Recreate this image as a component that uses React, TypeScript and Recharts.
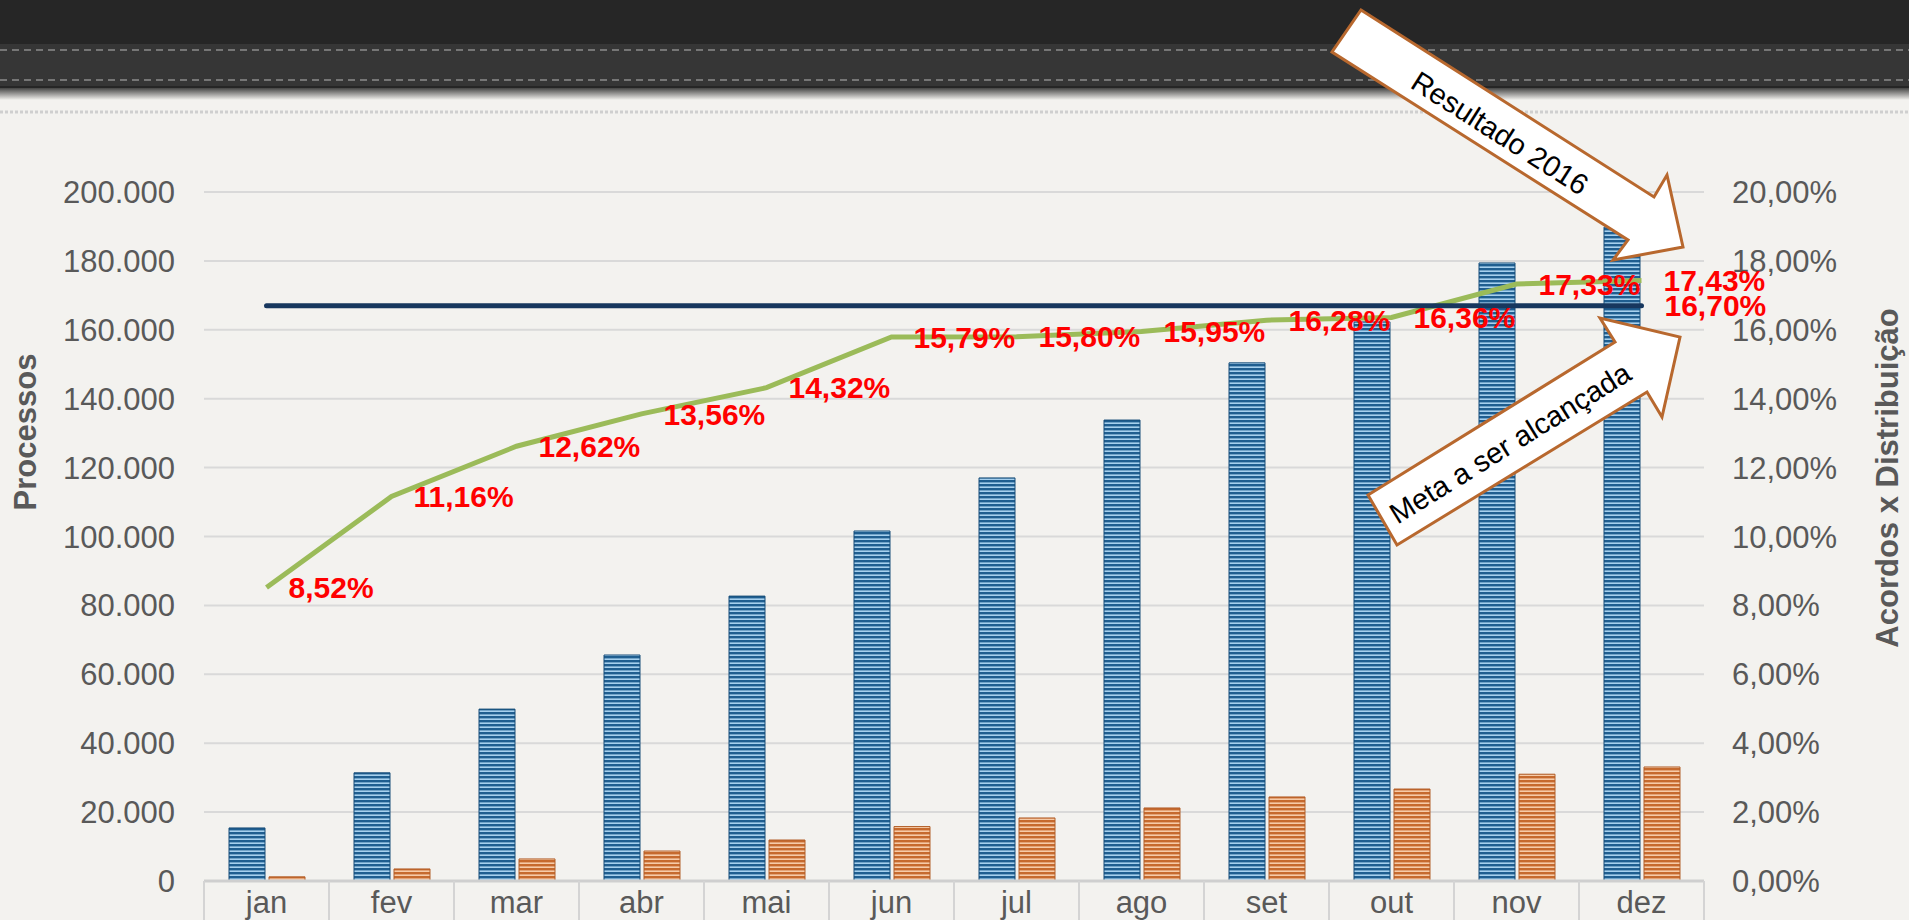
import { ComposedChart, Bar, Line, XAxis, YAxis, CartesianGrid, LabelList, Label } from "recharts";

const months = ["jan", "fev", "mar", "abr", "mai", "jun", "jul", "ago", "set", "out", "nov", "dez"];
// Processos distribuídos (acumulado)
const processos = [15400, 31400, 49900, 65600, 82700, 101600, 117000, 133800, 150400, 162300, 179400, 189800];
// Acordos (acumulado)
const acordos = [1200, 3500, 6400, 8700, 11900, 15800, 18300, 21200, 24400, 26700, 31000, 33100];
// Acordos x Distribuição (%)
const percentual = [8.52, 11.16, 12.62, 13.56, 14.32, 15.79, 15.8, 15.95, 16.28, 16.36, 17.33, 17.43];
// Meta a ser alcançada (%)
const meta = [16.7, 16.7, 16.7, 16.7, 16.7, 16.7, 16.7, 16.7, 16.7, 16.7, 16.7, 16.7];

const leftTicks = [0, 20000, 40000, 60000, 80000, 100000, 120000, 140000, 160000, 180000, 200000];
const rightTicks = [0, 2, 4, 6, 8, 10, 12, 14, 16, 18, 20];

const CHART_W = 1909;
const CHART_H = 920;
const LEFT_W = 204;
const RIGHT_W = 205;
const TOP = 192;
const XAXIS_H = 39;
const BAND = (CHART_W - LEFT_W - RIGHT_W) / months.length;

const FONT = "'Liberation Sans', Arial, sans-serif";
const GREY = "#595959";

const rows = months.map((m, i) => ({
  month: m,
  processos: processos[i],
  acordos: acordos[i],
  pct: percentual[i],
  meta: meta[i],
  metaLabel: i === months.length - 1 ? meta[i] : null,
}));

const fmtThousands = (v: number) => String(v).replace(/\B(?=(\d{3})+(?!\d))/g, ".");
const fmtPct = (v: number) => v.toFixed(2).replace(".", ",") + "%";

function MonthTick(props: any) {
  const { x, y, payload, index } = props;
  const half = BAND / 2;
  return (
    <g>
      <line x1={x - half} x2={x - half} y1={y} y2={y + XAXIS_H} stroke="#d4d4d4" strokeWidth={2} />
      {index === months.length - 1 && (
        <line x1={x + half} x2={x + half} y1={y} y2={y + XAXIS_H} stroke="#d4d4d4" strokeWidth={2} />
      )}
      <text x={x} y={y + 32} textAnchor="middle" fill={GREY} fontSize={31} fontFamily={FONT}>
        {payload.value}
      </text>
    </g>
  );
}

function Header() {
  return (
    <svg width={CHART_W} height={130} style={{ position: "absolute", left: 0, top: 0 }}>
      <defs>
        <linearGradient id="hdrShadow" x1="0" y1="0" x2="0" y2="1">
          <stop offset="0" stopColor="#1a1a1a" stopOpacity={0.8} />
          <stop offset="1" stopColor="#1a1a1a" stopOpacity={0} />
        </linearGradient>
      </defs>
      <rect x={0} y={0} width={CHART_W} height={88} fill="#262626" />
      <rect x={0} y={44} width={CHART_W} height={42} fill="#363636" />
      <line x1={0} x2={CHART_W} y1={50} y2={50} stroke="#8c8c8c" strokeWidth={1.5} strokeDasharray="7 5" />
      <line x1={0} x2={CHART_W} y1={80} y2={80} stroke="#8c8c8c" strokeWidth={1.5} strokeDasharray="7 5" />
      <rect x={0} y={88} width={CHART_W} height={12} fill="url(#hdrShadow)" />
      <line x1={0} x2={CHART_W} y1={112} y2={112} stroke="#cfcfcf" strokeWidth={3} strokeDasharray="3 2" />
    </svg>
  );
}

function Arrows() {
  const stroke = "#b8682e";
  return (
    <svg width={CHART_W} height={CHART_H} style={{ position: "absolute", left: 0, top: 0, pointerEvents: "none" }}>
      <polygon
        points="1361,10 1654,197 1667,175 1683,247 1613,260 1628,240 1332,52"
        fill="#ffffff"
        stroke={stroke}
        strokeWidth={3}
        strokeLinejoin="miter"
      />
      <text
        x={1500}
        y={133}
        dy="0.35em"
        textAnchor="middle"
        fontSize={29}
        fontFamily={FONT}
        fill="#000"
        transform="rotate(32.5 1500 133)"
      >
        Resultado 2016
      </text>
      <polygon
        points="1368,495 1615,342 1600,318 1680,337 1662,417 1647,392 1397,545"
        fill="#ffffff"
        stroke={stroke}
        strokeWidth={3}
        strokeLinejoin="miter"
      />
      <text
        x={1510}
        y={443}
        dy="0.35em"
        textAnchor="middle"
        fontSize={29}
        fontFamily={FONT}
        fill="#000"
        transform="rotate(-31.8 1510 443)"
      >
        Meta a ser alcançada
      </text>
    </svg>
  );
}

export default function App() {
  return (
    <div
      style={{
        position: "absolute",
        left: 0,
        top: 0,
        width: CHART_W,
        height: CHART_H,
        overflow: "hidden",
        background: "#f3f2ef",
        fontFamily: FONT,
      }}
    >
      <svg width={0} height={0} style={{ position: "absolute" }}>
        <defs>
          <pattern id="stripeBlue" patternUnits="userSpaceOnUse" width={8} height={4}>
            <rect width={8} height={4} fill="#1f5e90" />
            <rect y={2.4} width={8} height={1.6} fill="#a6d0ee" />
          </pattern>
          <pattern id="stripeOrange" patternUnits="userSpaceOnUse" width={8} height={4}>
            <rect width={8} height={4} fill="#c66a2e" />
            <rect y={2.4} width={8} height={1.6} fill="#f6cba8" />
          </pattern>
        </defs>
      </svg>
      <Header />
      <div style={{ position: "absolute", left: 0, top: 0 }}>
        <ComposedChart width={CHART_W} height={CHART_H} data={rows} margin={{ top: TOP, right: 0, bottom: 0, left: 0 }}>
          <CartesianGrid yAxisId="left" vertical={false} stroke="#d9d9d9" strokeWidth={2} />
          <XAxis
            dataKey="month"
            height={XAXIS_H}
            interval={0}
            tickLine={false}
            tickSize={0}
            tickMargin={0}
            axisLine={{ stroke: "#cfcfcf", strokeWidth: 3 }}
            tick={<MonthTick />}
          />
          <YAxis
            yAxisId="left"
            width={LEFT_W}
            domain={[0, 200000]}
            ticks={leftTicks}
            tickFormatter={fmtThousands}
            axisLine={false}
            tickLine={false}
            tickSize={0}
            tickMargin={29}
            tick={{ fill: GREY, fontSize: 31, fontFamily: FONT }}
          >
            <Label
              content={(p: any) => {
                const vb = p.viewBox;
                const cx = vb.x + 25;
                const cy = vb.y + 240;
                return (
                  <text
                    x={cx}
                    y={cy}
                    dy="0.35em"
                    textAnchor="middle"
                    fontSize={31}
                    fontWeight="bold"
                    fontFamily={FONT}
                    fill={GREY}
                    transform={`rotate(-90 ${cx} ${cy})`}
                  >
                    Processos
                  </text>
                );
              }}
            />
          </YAxis>
          <YAxis
            yAxisId="right"
            orientation="right"
            width={RIGHT_W}
            domain={[0, 20]}
            ticks={rightTicks}
            tickFormatter={fmtPct}
            axisLine={false}
            tickLine={false}
            tickSize={0}
            tickMargin={28}
            tick={{ fill: GREY, fontSize: 31, fontFamily: FONT, textAnchor: "start" }}
          >
            <Label
              content={(p: any) => {
                const vb = p.viewBox;
                const cx = vb.x + 183;
                const cy = vb.y + 286;
                return (
                  <text
                    x={cx}
                    y={cy}
                    dy="0.35em"
                    textAnchor="middle"
                    fontSize={31}
                    fontWeight="bold"
                    fontFamily={FONT}
                    fill={GREY}
                    transform={`rotate(-90 ${cx} ${cy})`}
                  >
                    Acordos x Distribuição
                  </text>
                );
              }}
            />
          </YAxis>

          <Bar
            yAxisId="left"
            dataKey="processos"
            name="Processos"
            fill="url(#stripeBlue)"
            stroke="#174d78"
            strokeWidth={1}
            barSize={36}
            isAnimationActive={false}
          />
          <Bar
            yAxisId="left"
            dataKey="acordos"
            name="Acordos"
            fill="url(#stripeOrange)"
            stroke="#b25e28"
            strokeWidth={1}
            barSize={36}
            isAnimationActive={false}
          />

          <Line
            yAxisId="right"
            type="linear"
            dataKey="pct"
            name="Acordos x Distribuição"
            stroke="#9bbb59"
            strokeWidth={5}
            dot={false}
            isAnimationActive={false}
          >
            <LabelList
              dataKey="pct"
              position="right"
              offset={22}
              formatter={(v: any) => fmtPct(Number(v))}
              fill="#ff0000"
              fontSize={30}
              fontWeight="bold"
              fontFamily={FONT}
            />
          </Line>

          <Line
            yAxisId="right"
            type="linear"
            dataKey="meta"
            name="Meta"
            stroke="#17375e"
            strokeWidth={5}
            strokeLinecap="round"
            dot={false}
            isAnimationActive={false}
          >
            <LabelList
              dataKey="metaLabel"
              position="right"
              offset={23}
              formatter={(v: any) => (v == null ? "" : fmtPct(Number(v)))}
              fill="#ff0000"
              fontSize={30}
              fontWeight="bold"
              fontFamily={FONT}
            />
          </Line>
        </ComposedChart>
      </div>
      <Arrows />
    </div>
  );
}
